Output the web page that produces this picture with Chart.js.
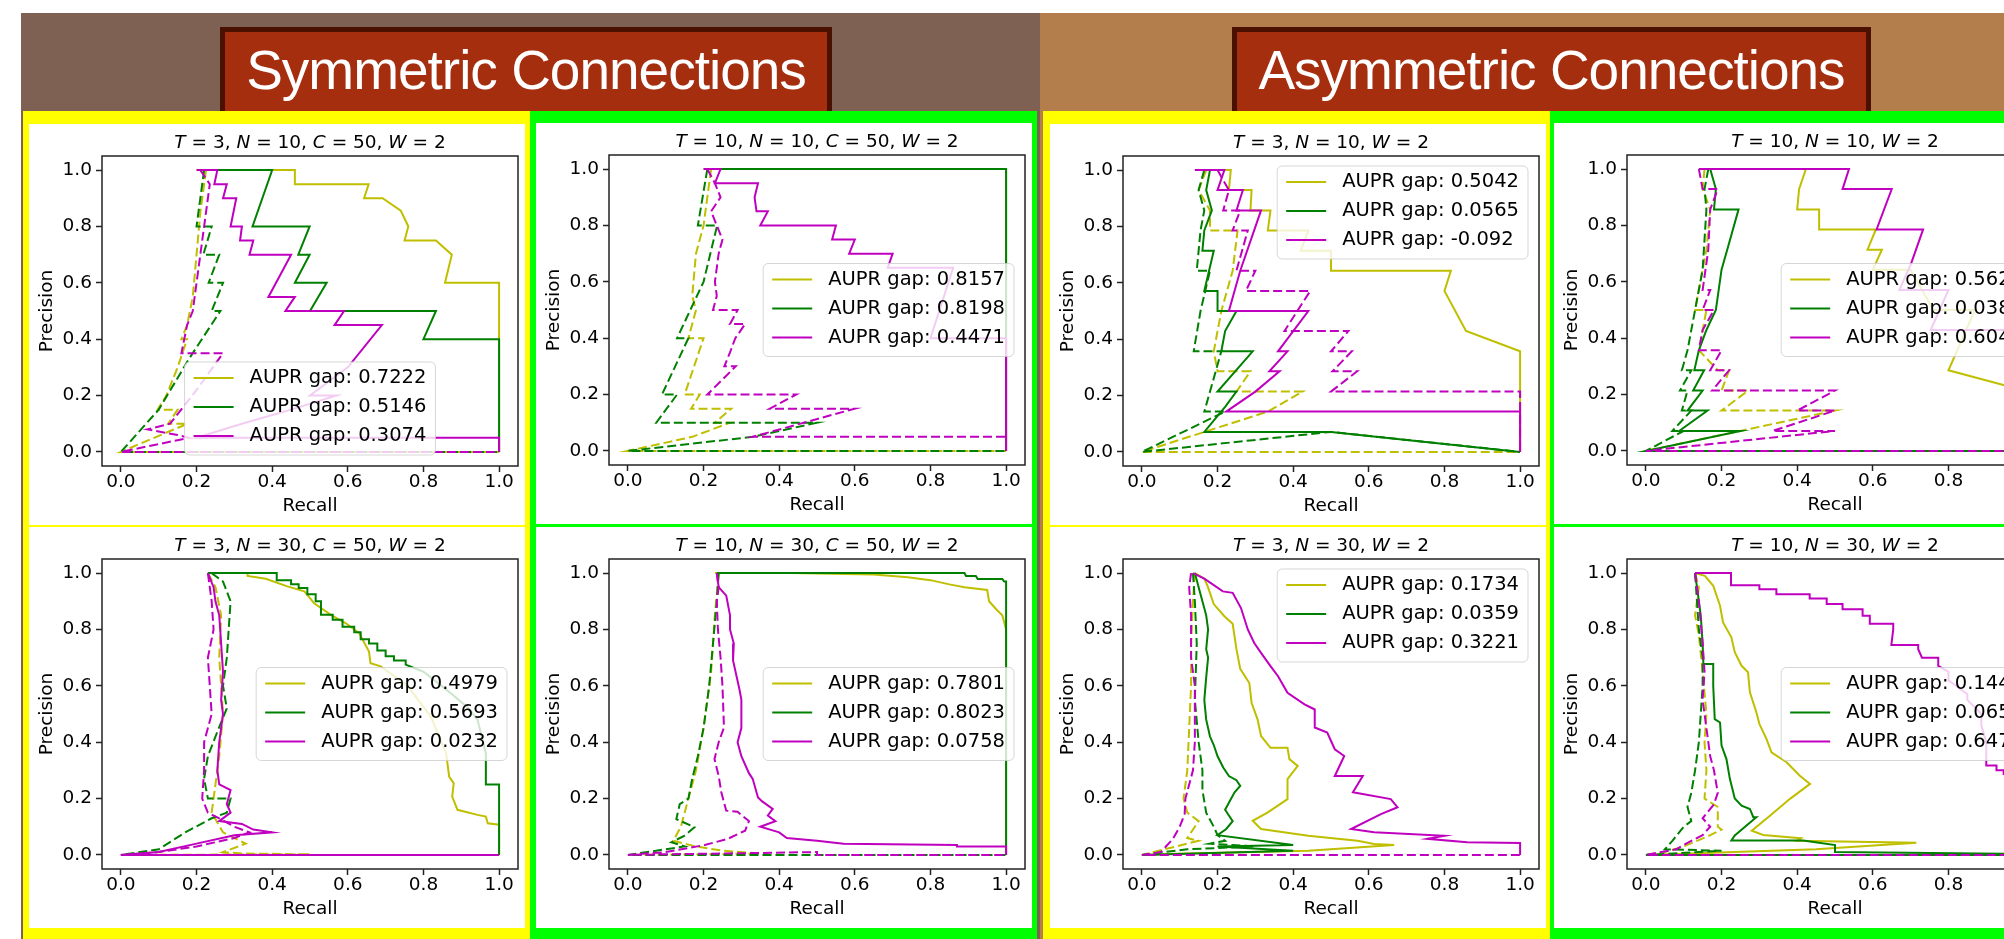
<!DOCTYPE html>
<html>
<head>
<meta charset="utf-8">
<script src="https://cdn.jsdelivr.net/npm/chart.js@4.4.1/dist/chart.umd.min.js"></script>
<style>
  html, body { margin: 0; padding: 0; background: #fff; }
  body { width: 2004px; height: 939px; overflow: hidden; position: relative; }
  .abs { position: absolute; }
  .banner { position: absolute; box-sizing: border-box; border: 5px solid #4a1000; background: #a52e0f; }
  .banner div { position: absolute; left: 0; right: 0; top: 11px; text-align: center; color: #fff;
    font-family: "Liberation Sans", Arial, sans-serif; font-size: 55px; line-height: 55px; letter-spacing: -1px; white-space: nowrap; }
  .panel { position: absolute; width: 496px; height: 401px; background: #fff; }
  .panel canvas { position: absolute; left: 0; top: 0; }
  .ptitle { position: absolute; left: 73px; width: 416px; top: 6px; height: 24px; line-height: 24px; text-align: center;
    font-family: "DejaVu Sans", sans-serif; font-size: 18.5px; color: #000; white-space: nowrap; }
</style>
</head>
<body>
<div class="abs" style="left:21px;top:13px;width:1019px;height:926px;background:#7f6153"></div>
<div class="abs" style="left:1040px;top:13px;width:964px;height:926px;background:#b37e4b"></div>
<div class="banner" style="left:220px;top:27px;width:612px;height:92px"><div>Symmetric Connections</div></div>
<div class="banner" style="left:1232px;top:27px;width:639px;height:92px"><div>Asymmetric Connections</div></div>
<div class="abs" style="left:23px;top:111px;width:507px;height:828px;background:#ffff00"></div>
<div class="abs" style="left:530px;top:111px;width:507px;height:828px;background:#00ff00"></div>
<div class="abs" style="left:1043px;top:111px;width:507px;height:828px;background:#ffff00"></div>
<div class="abs" style="left:1550px;top:111px;width:454px;height:828px;background:#00ff00"></div>
<div id="panels"></div>

<script>
const TICKS = [0, 0.2, 0.4, 0.6, 0.8, 1.0]
const TICK_LABELS = ['0.0', '0.2', '0.4', '0.6', '0.8', '1.0']
const COLORS = ['#bfbf00', '#008000', '#bf00bf']

// symmetric, T=3, N=10
const symT3N10_y = [[0.2,1],[0.46,1],[0.46,0.95],[0.655,0.95],[0.643,0.9],[0.692,0.9],[0.74,0.856],[0.76,0.8],[0.75,0.75],[0.833,0.75],[0.875,0.7],[0.857,0.6],[1,0.6],[1,0]]
const symT3N10_yd = [[0.225,1],[0.21,0.85],[0.2,0.7],[0.19,0.55],[0.175,0.45],[0.16,0.4],[0.175,0.4],[0.15,0.3],[0.12,0.2],[0.097,0.15],[0.15,0.15],[0.125,0.1],[0.176,0.1],[0.07,0.04],[0,0],[1,0]]
const symT3N10_g = [[0.22,1],[0.4,1],[0.348,0.8],[0.499,0.8],[0.469,0.7],[0.499,0.7],[0.46,0.6],[0.544,0.6],[0.5,0.5],[0.833,0.5],[0.8,0.4],[1,0.4],[1,0]]
const symT3N10_gd = [[0.22,1],[0.21,0.9],[0.2,0.8],[0.24,0.8],[0.218,0.7],[0.26,0.7],[0.232,0.6],[0.27,0.6],[0.24,0.5],[0.263,0.5],[0.18,0.33],[0.1,0.15],[0,0],[1,0]]
const symT3N10_m = [[0.2,1],[0.255,1],[0.247,0.95],[0.28,0.95],[0.27,0.9],[0.305,0.9],[0.29,0.8],[0.32,0.8],[0.315,0.75],[0.35,0.75],[0.34,0.7],[0.45,0.7],[0.39,0.55],[0.46,0.55],[0.435,0.5],[0.59,0.5],[0.565,0.45],[0.69,0.45],[0.6,0.3],[0.5,0.2],[0.57,0.2],[0.45,0.15],[0.32,0.1],[0.2,0.05],[1,0.05],[1,0]]
const symT3N10_md = [[0.21,1],[0.235,0.95],[0.225,0.85],[0.215,0.75],[0.2,0.6],[0.19,0.5],[0.175,0.45],[0.16,0.35],[0.27,0.35],[0.2,0.22],[0.13,0.1],[0.07,0.08],[0.15,0.06],[0.18,0.05],[0,0],[1,0]]
const gapSymT3N10 = ['0.7222', '0.5146', '0.3074']

// symmetric, T=10, N=10
const symT10N10_y = [[0.2,1],[1,1],[1,0]]
const symT10N10_yd = [[0.22,1],[0.2,0.8],[0.18,0.7],[0.17,0.55],[0.18,0.5],[0.16,0.4],[0.2,0.4],[0.15,0.2],[0.19,0.2],[0.167,0.15],[0.273,0.15],[0.23,0.1],[0.27,0.1],[0.17,0.05],[0,0],[1,0]]
const symT10N10_g = [[0.21,1],[1,1],[1,0]]
const symT10N10_gd = [[0.21,1],[0.185,0.8],[0.236,0.8],[0.2,0.6],[0.13,0.4],[0.16,0.4],[0.09,0.2],[0.13,0.2],[0.075,0.1],[0.5,0.1],[0.33,0.05],[0,0],[1,0]]
const symT10N10_m = [[0.2,1],[0.245,1],[0.23,0.95],[0.344,0.95],[0.335,0.9],[0.34,0.85],[0.37,0.85],[0.35,0.8],[0.55,0.8],[0.54,0.75],[0.6,0.75],[0.585,0.7],[0.7,0.7],[0.687,0.65],[0.86,0.65],[0.8,0.4],[1,0.4],[1,0]]
const symT10N10_md = [[0.21,1],[0.23,0.95],[0.245,0.9],[0.22,0.85],[0.235,0.8],[0.25,0.75],[0.24,0.7],[0.23,0.6],[0.235,0.55],[0.225,0.5],[0.29,0.5],[0.27,0.45],[0.31,0.45],[0.284,0.4],[0.27,0.35],[0.255,0.3],[0.285,0.3],[0.21,0.2],[0.445,0.2],[0.375,0.15],[0.6,0.15],[0.33,0.05],[1,0.05]]
const gapSymT10N10 = ['0.8157', '0.8198', '0.4471']

// asymmetric, T=3, N=10
const asymT3N10_y = [[0.14,1],[0.235,1],[0.23,0.929],[0.29,0.929],[0.287,0.857],[0.34,0.857],[0.333,0.786],[0.44,0.786],[0.42,0.714],[0.5,0.714],[0.5,0.643],[0.817,0.643],[0.8,0.571],[0.857,0.429],[1,0.357],[1,0]]
const asymT3N10_yd = [[0.17,1],[0.15,0.929],[0.18,0.857],[0.18,0.786],[0.253,0.786],[0.24,0.643],[0.21,0.5],[0.19,0.357],[0.2,0.286],[0.287,0.286],[0.25,0.214],[0.425,0.214],[0.333,0.143],[0,0],[1,0]]
const asymT3N10_g = [[0.18,1],[0.17,0.929],[0.185,0.857],[0.165,0.786],[0.16,0.714],[0.19,0.714],[0.165,0.571],[0.2,0.571],[0.2,0.5],[0.25,0.5],[0.22,0.429],[0.21,0.357],[0.293,0.357],[0.2,0.214],[0.25,0.214],[0.22,0.16],[0.165,0.071],[0.5,0.071],[1,0]]
const asymT3N10_gd = [[0.165,1],[0.15,0.929],[0.165,0.857],[0.155,0.786],[0.145,0.643],[0.18,0.643],[0.155,0.5],[0.137,0.357],[0.21,0.357],[0.18,0.214],[0.165,0.143],[0.22,0.143],[0,0],[0.5,0.071],[1,0]]
const asymT3N10_m = [[0.14,1],[0.218,1],[0.2,0.929],[0.267,0.929],[0.25,0.857],[0.315,0.857],[0.26,0.643],[0.23,0.5],[0.44,0.5],[0.36,0.357],[0.385,0.357],[0.337,0.286],[0.364,0.286],[0.3,0.214],[0.223,0.143],[1,0.143],[1,0]]
const asymT3N10_md = [[0.2,1],[0.23,0.929],[0.215,0.857],[0.26,0.857],[0.24,0.786],[0.28,0.786],[0.25,0.643],[0.3,0.643],[0.275,0.571],[0.445,0.571],[0.377,0.429],[0.546,0.429],[0.5,0.357],[0.555,0.357],[0.504,0.286],[0.569,0.286],[0.5,0.214],[1,0.214],[1,0]]
const gapAsymT3N10 = ['0.5042', '0.0565', '-0.092']

// asymmetric, T=10, N=10
const asymT10N10_y = [[0.14,1],[0.423,1],[0.405,0.929],[0.4,0.857],[0.458,0.857],[0.458,0.786],[0.608,0.786],[0.586,0.714],[0.624,0.714],[0.6,0.643],[0.7,0.643],[0.76,0.5],[0.87,0.5],[0.8,0.286],[1,0.214],[1,0]]
const asymT10N10_yd = [[0.155,1],[0.15,0.929],[0.17,0.857],[0.16,0.714],[0.15,0.643],[0.13,0.5],[0.16,0.5],[0.14,0.357],[0.19,0.286],[0.22,0.286],[0.2,0.214],[0.27,0.214],[0.2,0.143],[0.5,0.143],[0.25,0.071],[0,0],[1,0]]
const asymT10N10_g = [[0.17,1],[0.185,0.929],[0.18,0.857],[0.245,0.857],[0.215,0.714],[0.2,0.643],[0.185,0.5],[0.16,0.429],[0.14,0.357],[0.128,0.286],[0.154,0.286],[0.125,0.214],[0.15,0.214],[0.11,0.143],[0.163,0.143],[0.088,0.071],[0.25,0.071],[0,0],[1,0]]
const asymT10N10_gd = [[0.165,1],[0.155,0.929],[0.16,0.857],[0.15,0.643],[0.13,0.5],[0.11,0.357],[0.095,0.286],[0.12,0.286],[0.09,0.214],[0.11,0.214],[0.095,0.143],[0.12,0.143],[0.07,0.071],[0.1,0.071],[0,0],[1,0]]
const asymT10N10_m = [[0.14,1],[0.537,1],[0.52,0.929],[0.65,0.929],[0.61,0.786],[0.733,0.786],[0.7,0.66],[0.67,0.571],[0.8,0.571],[0.753,0.429],[0.97,0.429],[1,0.357],[1,0]]
const asymT10N10_md = [[0.14,1],[0.15,0.929],[0.19,0.929],[0.17,0.857],[0.165,0.714],[0.15,0.571],[0.17,0.571],[0.15,0.5],[0.18,0.5],[0.15,0.429],[0.14,0.357],[0.2,0.357],[0.17,0.286],[0.22,0.286],[0.175,0.214],[0.5,0.214],[0.4,0.143],[0.5,0.143],[0.335,0.071],[0.5,0.071],[0,0],[1,0]]
const gapAsymT10N10 = ['0.5623', '0.0386', '0.6047']

// symmetric, T=3, N=30
const symT3N30_y = [[0.23,1],[0.335,1],[0.335,0.99],[0.383,0.98],[0.44,0.953],[0.485,0.935],[0.511,0.893],[0.555,0.852],[0.595,0.822],[0.63,0.787],[0.656,0.722],[0.66,0.68],[0.687,0.669],[0.758,0.6],[0.82,0.49],[0.86,0.36],[0.868,0.278],[0.88,0.254],[0.876,0.207],[0.89,0.16],[0.943,0.142],[0.965,0.136],[0.97,0.112],[1,0.107],[1,0]]
const symT3N30_yd = [[0.23,1],[0.25,0.95],[0.265,0.85],[0.26,0.7],[0.27,0.5],[0.26,0.35],[0.25,0.25],[0.245,0.2],[0.24,0.15],[0.27,0.08],[0.33,0.04],[0.27,0.01],[0.32,0.005],[0.5,0.002],[0,0]]
const symT3N30_g = [[0.23,1],[0.412,1],[0.412,0.975],[0.45,0.975],[0.45,0.96],[0.47,0.96],[0.47,0.947],[0.493,0.947],[0.493,0.925],[0.515,0.925],[0.515,0.9],[0.529,0.9],[0.529,0.852],[0.56,0.852],[0.56,0.834],[0.586,0.834],[0.586,0.81],[0.617,0.81],[0.617,0.79],[0.634,0.79],[0.634,0.765],[0.656,0.765],[0.656,0.75],[0.678,0.75],[0.678,0.725],[0.7,0.725],[0.7,0.705],[0.722,0.705],[0.722,0.69],[0.753,0.69],[0.753,0.675],[0.8,0.65],[0.872,0.574],[0.92,0.52],[0.943,0.48],[0.965,0.36],[0.965,0.25],[1,0.25],[1,0]]
const symT3N30_gd = [[0.24,1],[0.27,0.97],[0.29,0.9],[0.285,0.8],[0.28,0.7],[0.27,0.6],[0.28,0.52],[0.25,0.42],[0.23,0.35],[0.22,0.27],[0.23,0.2],[0.29,0.2],[0.28,0.15],[0.24,0.13],[0.17,0.08],[0.1,0.02],[0,0],[1,0]]
const symT3N30_m = [[0.23,1],[0.245,0.95],[0.25,0.9],[0.26,0.85],[0.265,0.75],[0.27,0.65],[0.265,0.55],[0.27,0.5],[0.26,0.4],[0.255,0.3],[0.26,0.25],[0.29,0.23],[0.28,0.18],[0.29,0.15],[0.26,0.12],[0.32,0.11],[0.35,0.09],[0.4,0.08],[0.3,0.07],[0.2,0.04],[0.1,0.01],[0,0],[1,0]]
const symT3N30_md = [[0.23,1],[0.24,0.9],[0.245,0.8],[0.23,0.7],[0.235,0.6],[0.24,0.5],[0.22,0.4],[0.22,0.3],[0.215,0.2],[0.23,0.15],[0.26,0.13],[0.3,0.1],[0.34,0.08],[0.3,0.06],[0.2,0.03],[0.1,0.01],[0,0],[1,0]]
const gapSymT3N30 = ['0.4979', '0.5693', '0.0232']

// symmetric, T=10, N=30
const symT10N30_y = [[0.23,1],[0.43,1],[0.65,0.995],[0.74,0.985],[0.8,0.975],[0.85,0.96],[0.89,0.95],[0.95,0.94],[0.955,0.9],[0.975,0.87],[0.99,0.85],[1,0.8],[1,0]]
const symT10N30_yd = [[0.24,1],[0.23,0.85],[0.22,0.65],[0.2,0.45],[0.18,0.3],[0.16,0.2],[0.15,0.15],[0.14,0.1],[0.12,0.05],[0.18,0.03],[0.25,0.015],[0.35,0.005],[0,0]]
const symT10N30_g = [[0.235,1],[0.89,1],[0.894,0.99],[0.92,0.99],[0.925,0.979],[0.99,0.979],[0.995,0.97],[1,0.97],[1,0]]
const symT10N30_gd = [[0.24,1],[0.235,0.9],[0.225,0.75],[0.215,0.6],[0.2,0.45],[0.185,0.35],[0.17,0.27],[0.16,0.2],[0.137,0.18],[0.128,0.127],[0.176,0.098],[0.15,0.068],[0.115,0.045],[0.15,0.03],[0,0],[1,0]]
const symT10N30_m = [[0.235,1],[0.24,0.95],[0.26,0.92],[0.27,0.85],[0.27,0.8],[0.28,0.75],[0.278,0.69],[0.295,0.587],[0.3,0.55],[0.3,0.49],[0.3,0.45],[0.29,0.4],[0.3,0.35],[0.32,0.29],[0.33,0.27],[0.344,0.204],[0.355,0.19],[0.383,0.163],[0.37,0.14],[0.39,0.12],[0.35,0.1],[0.4,0.08],[0.42,0.06],[0.5,0.05],[0.57,0.04],[0.87,0.035],[0.87,0.03],[1,0.03],[1,0]]
const symT10N30_md = [[0.235,1],[0.24,0.95],[0.235,0.9],[0.238,0.8],[0.245,0.7],[0.25,0.6],[0.254,0.452],[0.24,0.4],[0.229,0.34],[0.24,0.28],[0.247,0.222],[0.26,0.157],[0.29,0.153],[0.32,0.12],[0.31,0.086],[0.264,0.057],[0.203,0.035],[0.1,0.01],[0,0],[0.5,0.01],[0.5,0],[1,0]]
const gapSymT10N30 = ['0.7801', '0.8023', '0.0758']

// asymmetric, T=3, N=30
const asymT3N30_y = [[0.14,1],[0.165,0.98],[0.174,0.953],[0.19,0.89],[0.218,0.847],[0.24,0.82],[0.25,0.73],[0.26,0.66],[0.284,0.61],[0.29,0.54],[0.306,0.48],[0.315,0.422],[0.34,0.38],[0.385,0.38],[0.39,0.34],[0.412,0.316],[0.385,0.269],[0.385,0.198],[0.333,0.151],[0.293,0.121],[0.315,0.092],[0.44,0.068],[0.57,0.05],[0.614,0.039],[0.667,0.035],[0.44,0.015],[0.09,0.004],[0,0]]
const asymT3N30_yd = [[0.14,1],[0.135,0.9],[0.13,0.75],[0.13,0.6],[0.125,0.45],[0.12,0.3],[0.11,0.2],[0.12,0.15],[0.15,0.12],[0.12,0.06],[0.15,0.05],[0,0]]
const asymT3N30_g = [[0.14,1],[0.15,0.95],[0.16,0.9],[0.17,0.85],[0.175,0.8],[0.17,0.73],[0.175,0.7],[0.17,0.63],[0.165,0.55],[0.17,0.48],[0.18,0.42],[0.19,0.39],[0.2,0.35],[0.215,0.31],[0.23,0.28],[0.25,0.265],[0.26,0.245],[0.245,0.222],[0.22,0.16],[0.24,0.12],[0.223,0.092],[0.2,0.07],[0.4,0.035],[0.2,0.03],[0.4,0.015],[0,0]]
const asymT3N30_gd = [[0.135,1],[0.14,0.9],[0.145,0.75],[0.14,0.55],[0.15,0.4],[0.16,0.3],[0.16,0.23],[0.17,0.15],[0.19,0.1],[0.2,0.07],[0.22,0.05],[0.18,0.04],[0.3,0.03],[0.12,0.02],[0,0]]
const asymT3N30_m = [[0.135,1],[0.165,0.98],[0.214,0.935],[0.24,0.93],[0.262,0.876],[0.28,0.8],[0.297,0.752],[0.315,0.717],[0.34,0.67],[0.36,0.634],[0.385,0.575],[0.43,0.534],[0.457,0.516],[0.457,0.452],[0.49,0.434],[0.51,0.375],[0.535,0.351],[0.51,0.28],[0.584,0.28],[0.558,0.222],[0.658,0.198],[0.676,0.169],[0.632,0.145],[0.553,0.092],[0.614,0.08],[0.8,0.068],[0.755,0.057],[0.86,0.045],[1,0.042],[1,0]]
const asymT3N30_md = [[0.13,1],[0.125,0.95],[0.13,0.85],[0.13,0.7],[0.14,0.6],[0.14,0.5],[0.14,0.4],[0.135,0.3],[0.115,0.2],[0.113,0.145],[0.1,0.1],[0.082,0.057],[0.05,0.01],[0,0],[1,0]]
const gapAsymT3N30 = ['0.1734', '0.0359', '0.3221']

// asymmetric, T=10, N=30
const asymT10N30_y = [[0.13,1],[0.156,0.99],[0.178,0.955],[0.196,0.884],[0.204,0.825],[0.226,0.772],[0.235,0.719],[0.253,0.671],[0.27,0.648],[0.275,0.577],[0.292,0.506],[0.3,0.465],[0.319,0.411],[0.332,0.364],[0.372,0.329],[0.407,0.281],[0.434,0.252],[0.381,0.199],[0.328,0.139],[0.28,0.086],[0.31,0.071],[0.41,0.059],[0.4,0.05],[0.715,0.043],[0.45,0.02],[0,0]]
const asymT10N30_yd = [[0.13,1],[0.14,0.95],[0.13,0.85],[0.14,0.78],[0.15,0.65],[0.16,0.5],[0.155,0.4],[0.16,0.3],[0.155,0.2],[0.19,0.17],[0.19,0.1],[0.2,0.09],[0.17,0.07],[0.1,0.03],[0.05,0.01],[0,0]]
const asymT10N30_g = [[0.13,1],[0.135,0.95],[0.145,0.85],[0.15,0.75],[0.152,0.677],[0.178,0.677],[0.178,0.6],[0.182,0.482],[0.196,0.47],[0.2,0.388],[0.213,0.34],[0.222,0.27],[0.235,0.2],[0.253,0.175],[0.275,0.163],[0.284,0.134],[0.292,0.134],[0.266,0.104],[0.235,0.069],[0.226,0.051],[0.416,0.051],[0.5,0.035],[0.5,0.01],[0.946,0.004],[1,0]]
const asymT10N30_gd = [[0.13,1],[0.135,0.9],[0.14,0.8],[0.15,0.7],[0.15,0.6],[0.145,0.5],[0.14,0.4],[0.13,0.3],[0.12,0.22],[0.11,0.17],[0.12,0.12],[0.1,0.1],[0.07,0.05],[0.05,0.02],[0.2,0.015],[0,0],[1,0]]
const asymT10N30_m = [[0.13,1],[0.225,1],[0.225,0.957],[0.3,0.957],[0.3,0.943],[0.345,0.943],[0.345,0.925],[0.433,0.925],[0.433,0.91],[0.478,0.91],[0.478,0.89],[0.52,0.89],[0.52,0.872],[0.573,0.872],[0.573,0.849],[0.592,0.849],[0.592,0.82],[0.654,0.82],[0.654,0.8],[0.649,0.745],[0.72,0.745],[0.72,0.73],[0.73,0.7],[0.773,0.7],[0.773,0.671],[0.8,0.65],[0.8,0.62],[0.85,0.57],[0.85,0.55],[0.887,0.5],[0.887,0.459],[0.9,0.4],[0.9,0.317],[0.927,0.317],[0.927,0.3],[0.946,0.3],[0.946,0.287],[1,0.28],[1,0]]
const asymT10N30_md = [[0.13,1],[0.14,0.9],[0.15,0.75],[0.155,0.65],[0.15,0.55],[0.16,0.45],[0.17,0.35],[0.18,0.3],[0.19,0.22],[0.18,0.18],[0.15,0.13],[0.17,0.1],[0.15,0.07],[0.12,0.05],[0.08,0.02],[0,0],[1,0]]
const gapAsymT10N30 = ['0.1442', '0.0651', '0.6473']

const panelTitles = [
  '<i>T</i> = 3, <i>N</i> = 10, <i>C</i> = 50, <i>W</i> = 2',
  '<i>T</i> = 10, <i>N</i> = 10, <i>C</i> = 50, <i>W</i> = 2',
  '<i>T</i> = 3, <i>N</i> = 10, <i>W</i> = 2',
  '<i>T</i> = 10, <i>N</i> = 10, <i>W</i> = 2',
  '<i>T</i> = 3, <i>N</i> = 30, <i>C</i> = 50, <i>W</i> = 2',
  '<i>T</i> = 10, <i>N</i> = 30, <i>C</i> = 50, <i>W</i> = 2',
  '<i>T</i> = 3, <i>N</i> = 30, <i>W</i> = 2',
  '<i>T</i> = 10, <i>N</i> = 30, <i>W</i> = 2',
]

const panels = [
  { left: 29, top: 124, title: panelTitles[0], loc: 'lower center', gaps: gapSymT3N10,
    curves: [symT3N10_y, symT3N10_yd, symT3N10_g, symT3N10_gd, symT3N10_m, symT3N10_md] },
  { left: 536, top: 123, title: panelTitles[1], loc: 'center right', gaps: gapSymT10N10,
    curves: [symT10N10_y, symT10N10_yd, symT10N10_g, symT10N10_gd, symT10N10_m, symT10N10_md] },
  { left: 1050, top: 124, title: panelTitles[2], loc: 'upper right', gaps: gapAsymT3N10,
    curves: [asymT3N10_y, asymT3N10_yd, asymT3N10_g, asymT3N10_gd, asymT3N10_m, asymT3N10_md] },
  { left: 1554, top: 123, title: panelTitles[3], loc: 'center right', gaps: gapAsymT10N10,
    curves: [asymT10N10_y, asymT10N10_yd, asymT10N10_g, asymT10N10_gd, asymT10N10_m, asymT10N10_md] },
  { left: 29, top: 527, title: panelTitles[4], loc: 'center right', gaps: gapSymT3N30,
    curves: [symT3N30_y, symT3N30_yd, symT3N30_g, symT3N30_gd, symT3N30_m, symT3N30_md] },
  { left: 536, top: 527, title: panelTitles[5], loc: 'center right', gaps: gapSymT10N30,
    curves: [symT10N30_y, symT10N30_yd, symT10N30_g, symT10N30_gd, symT10N30_m, symT10N30_md] },
  { left: 1050, top: 527, title: panelTitles[6], loc: 'upper right', gaps: gapAsymT3N30,
    curves: [asymT3N30_y, asymT3N30_yd, asymT3N30_g, asymT3N30_gd, asymT3N30_m, asymT3N30_md] },
  { left: 1554, top: 527, title: panelTitles[7], loc: 'center right', gaps: gapAsymT10N30,
    curves: [asymT10N30_y, asymT10N30_yd, asymT10N30_g, asymT10N30_gd, asymT10N30_m, asymT10N30_md] },
]

const FONT = 'DejaVu Sans'

// matplotlib-like legend box, drawn over the lines with a translucent face
const gapLegend = {
  id: 'gapLegend',
  afterDatasetsDraw(chart, args, opts) {
    const { ctx, chartArea: a } = chart
    ctx.save()
    ctx.font = '19.5px "' + FONT + '"'
    const texts = opts.labels.map((g) => 'AUPR gap: ' + g)
    const tw = Math.max(...texts.map((t) => ctx.measureText(t).width))
    const bw = 65 + tw + 9
    const bh = 93
    let left = a.right - 11 - bw
    let top = a.top + (a.height - bh) / 2
    if (opts.loc === 'lower center') {
      left = a.left + (a.width - bw) / 2
      top = a.bottom - 11 - bh
    } else if (opts.loc === 'upper right') {
      top = a.top + 10
    }
    ctx.beginPath()
    ctx.roundRect(left, top, bw, bh, 5)
    ctx.fillStyle = 'rgba(255,255,255,0.8)'
    ctx.fill()
    ctx.strokeStyle = 'rgba(204,204,204,0.8)'
    ctx.lineWidth = 1
    ctx.stroke()
    texts.forEach((t, i) => {
      const y = top + 16 + i * 29
      ctx.setLineDash([])
      ctx.strokeStyle = COLORS[i]
      ctx.lineWidth = 2
      ctx.beginPath()
      ctx.moveTo(left + 9, y)
      ctx.lineTo(left + 49, y)
      ctx.stroke()
      ctx.fillStyle = '#000'
      ctx.textBaseline = 'middle'
      ctx.textAlign = 'left'
      ctx.fillText(t, left + 65, y)
    })
    ctx.restore()
  },
}

// four spines around the axes
const frame = {
  id: 'frame',
  afterDraw(chart) {
    const { ctx, chartArea: a } = chart
    ctx.save()
    ctx.strokeStyle = '#222'
    ctx.lineWidth = 1.5
    ctx.setLineDash([])
    ctx.strokeRect(a.left, a.top, a.width, a.height)
    ctx.restore()
  },
}

function axis(titleText, isX) {
  return {
    type: 'linear',
    min: -0.05,
    max: 1.05,
    afterBuildTicks: (s) => { s.ticks = TICKS.map((v) => ({ value: v })) },
    afterFit: (s) => { if (isX) s.height = 59; else s.width = 73 },
    ticks: {
      callback: (v, i) => TICK_LABELS[i],
      font: { family: FONT, size: 18.5, lineHeight: 1 },
      color: '#000',
      padding: isX ? 1 : 4,
      autoSkip: false,
      maxRotation: 0,
    },
    grid: { drawOnChartArea: false, color: '#222', tickLength: 6, tickWidth: 1.5 },
    border: { display: false },
    title: {
      display: true,
      text: titleText,
      color: '#000',
      font: { family: FONT, size: 18.5, lineHeight: 1.2 },
      padding: isX ? { top: 0, bottom: 8 } : { top: 7, bottom: 0 },
    },
  }
}

const host = document.getElementById('panels')
panels.forEach((p) => {
  const box = document.createElement('div')
  box.className = 'panel'
  box.style.left = p.left + 'px'
  box.style.top = p.top + 'px'
  const canvas = document.createElement('canvas')
  canvas.width = 496
  canvas.height = 401
  box.appendChild(canvas)
  const t = document.createElement('div')
  t.className = 'ptitle'
  t.innerHTML = p.title
  box.appendChild(t)
  host.appendChild(box)

  const datasets = p.curves.map((pts, i) => ({
    data: pts,
    borderColor: COLORS[Math.floor(i / 2)],
    borderWidth: 2,
    borderDash: i % 2 ? [9, 4] : [],
    showLine: true,
    pointRadius: 0,
    pointHoverRadius: 0,
    tension: 0,
    fill: false,
    order: 10 - i,
  }))

  new Chart(canvas, {
    type: 'scatter',
    data: { datasets },
    options: {
      responsive: false,
      devicePixelRatio: 1,
      animation: false,
      events: [],
      layout: { padding: { top: 32, right: 7, left: 0, bottom: 0 } },
      plugins: {
        legend: { display: false },
        tooltip: { enabled: false },
        gapLegend: { labels: p.gaps, loc: p.loc },
      },
      scales: { x: axis('Recall', true), y: axis('Precision', false) },
    },
    plugins: [gapLegend, frame],
  })
})
</script>
</body>
</html>
